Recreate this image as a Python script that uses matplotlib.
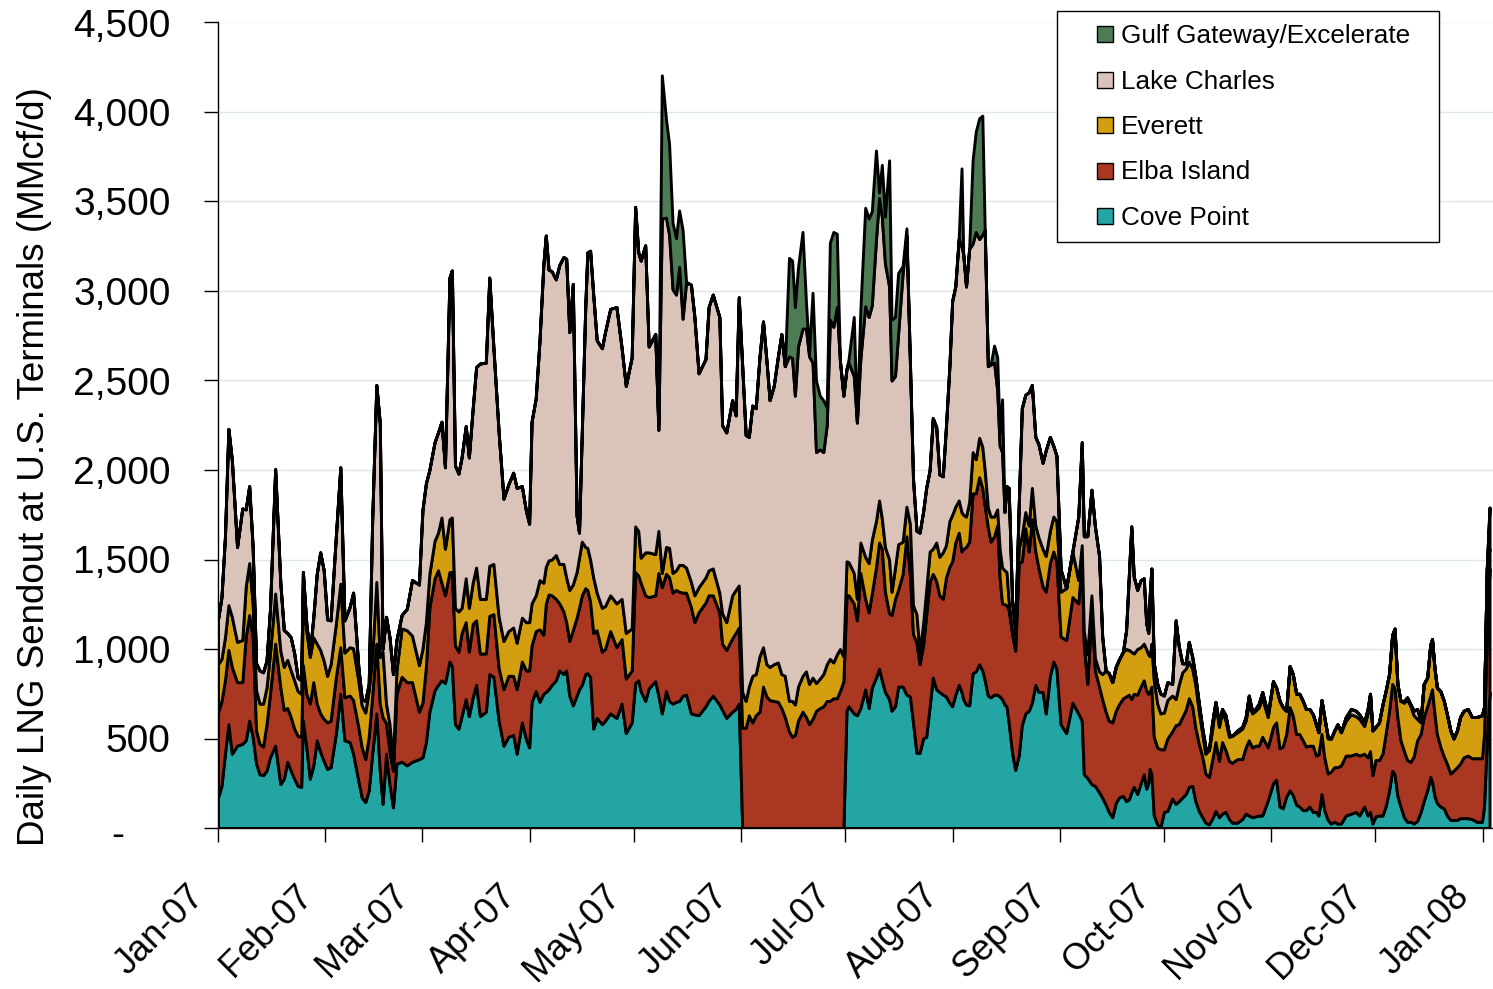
import pandas as pd
import matplotlib
matplotlib.use("Agg")
import matplotlib.pyplot as plt
import matplotlib.dates as mdates
from matplotlib.patches import Patch, Rectangle
from matplotlib.legend_handler import HandlerPatch
from matplotlib.transforms import ScaledTranslation

plt.rcParams['font.family'] = ['Liberation Sans', 'DejaVu Sans']

# day offsets from 1 Jan 2007 where the picture was read
days = [0, 1, 2, 3, 4, 5.5, 7, 8, 9, 10, 11, 12, 13, 14, 15, 16.5, 18, 19, 20, 21, 22, 23, 24, 24.5, 25.5,
        26.5, 27.5, 28.5, 29.5, 30.5, 31.5, 32.5, 34, 35.3, 36.5, 38, 39, 40.5, 41.5, 42.5, 43.5, 44.5, 45.7,
        46.7, 47.5, 48.5, 49.5, 50.5, 51.5, 53, 54.5, 56, 58, 59, 60,
        61, 62.5, 63.5, 64.5, 65.5, 66.8, 67.5, 68.4, 69.4, 70.3, 71.5, 72.4, 73.5, 74.5, 75.6, 77.3, 78.3,
        79.5, 81, 82.4, 83.8, 85.2, 86.2, 87.7, 88.9, 89.8, 90.5, 91.7, 92.8, 93.9, 94.6, 95.4, 96.3, 97.5,
        98.5, 99.7, 100.5, 101.4, 102.4, 103.5, 104.2, 105, 106, 106.6, 107.4, 108.3, 109.3, 110.8, 111.7,
        113.2, 115, 116.5, 117.7, 119.4, 120.4, 121.3,
        122, 123.3, 124.3, 126.2, 127.1, 128.1, 129.3, 130.2, 131.2, 132.2, 133.1, 134.1, 135.1, 136.5, 137.5,
        138.7, 140.7, 141.6, 142.8, 144.7, 145.5, 146.7, 148.4, 149.4, 150.3, 151.3, 152.3, 153.2, 154.2,
        155.2, 156.3, 157.3, 158.3, 159.2, 160.4, 161.6, 162.6, 163.6, 164.8, 165.7, 166.5, 167.4, 168.7,
        169.7, 170.6, 171.6, 172.6, 173.7, 174.7, 175.7, 176.6, 177.6, 178.6, 179.5, 180.5, 181.4,
        182, 183.5, 184.4, 185.4, 186.8, 187.8, 188.7, 189.9, 190.8, 191.6, 192.5, 193.7, 194.4, 195.4, 196.3,
        197.6, 198.7, 199.7, 200.6, 201.6, 202.5, 203.5, 204.4, 205.4, 206.3, 207.3, 208.2, 209.2, 210.1,
        211.1, 211.9, 212.8, 213.8, 214.6, 215.1, 215.9, 216.8, 217.8, 218.7, 219.7, 220.6, 221.3, 222.2,
        223, 224, 224.9, 225.6, 226.3, 227, 227.6, 228.2, 229.2, 230.1, 231.1, 232, 233, 234, 234.9, 235.9,
        236.8, 238, 238.9, 240.1, 241.1, 242,
        243.2, 244.8, 246.6, 248.3, 249.3, 249.9, 250.9, 252.1, 253.1, 254.3, 255.2, 256.2, 257.1, 258.1,
        259.1, 260, 261.2, 262.1, 262.9, 263.6, 264.3, 265.3, 266.3, 267.2, 267.9, 268.5, 268.9, 269.4,
        270.1, 271.1, 272, 273, 274, 275.4, 276.4, 277.3, 278.3, 279.3, 280.2, 281.2, 282.1, 283.1, 284.1,
        285, 286, 286.9, 287.9, 288.9, 289.8, 290.8, 291.8, 292.7, 294.2, 295.6, 296.6, 297.5, 298.5, 299.4,
        300.4, 301.4,
        303, 304.5, 305.4, 306.4, 307.3, 308.3, 309.3, 310.2, 311.2, 312.1, 313.1, 314, 315, 316, 316.9,
        317.6, 318.5, 319.3, 320.3, 321.2, 322.2, 323.1, 324.1, 325.5, 327, 328.4, 329.4, 330.8, 331.8,
        332.5, 333.2, 334.1, 335.1, 336.1, 337, 338, 338.9, 339.6, 340.4, 341.3, 342.3, 343.2, 344.2, 345.1,
        346.1, 347.1, 348, 349, 349.9, 350.4, 351.1, 351.8, 352.8, 353.8, 354.7, 355.7, 356.6, 357.6, 358.5,
        359.5, 360.7, 361.9, 363.3, 364.8, 365.4, 366.2, 367]

cove = [170, 235, 415, 580, 415, 460, 470, 490, 600, 510, 360, 300, 295, 320, 395, 460, 245, 275, 370, 320,
        275, 235, 230, 600, 450, 275, 350, 490, 425, 375, 330, 340, 525, 750, 490, 480, 415, 265, 170, 145,
        210, 415, 640, 320, 135, 415, 245, 115, 360, 370, 350, 370, 385, 395, 480,
        650, 770, 800, 825, 810, 930, 905, 580, 555, 625, 720, 625, 730, 800, 625, 650, 860, 845, 600, 460,
        510, 520, 415, 590, 495, 450, 705, 765, 705, 750, 760, 775, 800, 825, 880, 860, 880, 740, 685, 740,
        775, 800, 860, 865, 845, 555, 615, 580, 600, 640, 615, 695, 530, 590, 810, 825,
        765, 710, 780, 820, 740, 640, 765, 710, 695, 705, 710, 740, 745, 640, 635, 630, 680, 710, 740, 690,
        660, 615, 650, 665, 695, 0, 0, 0, 0, 0, 0, 0, 0, 0, 0, 0, 0, 0, 0, 0, 0, 0, 0, 0, 0, 0, 0, 0, 0, 0,
        0, 0, 0, 0, 0, 655,
        680, 640, 630, 670, 775, 670, 785, 840, 890, 825, 760, 720, 655, 680, 790, 790, 745, 735, 590, 420,
        420, 500, 510, 680, 840, 775, 760, 745, 735, 700, 680, 745, 800, 760, 720, 690, 685, 865, 875, 915,
        880, 825, 740, 730, 745, 745, 735, 720, 690, 680, 590, 420, 325, 405, 575, 640, 655, 700, 800, 760,
        760, 640, 850, 930, 890,
        580, 530, 700, 640, 600, 300, 280, 245, 235, 200, 170, 130, 90, 60, 140, 170, 180, 150, 160, 200,
        230, 190, 250, 300, 220, 250, 330, 300, 70, 20, 5, 90, 95, 165, 135, 150, 170, 190, 230, 235, 150,
        95, 60, 30, 20, 50, 95, 60, 80, 90, 50, 30, 30, 50, 80, 70, 60, 65, 70, 70,
        155, 250, 270, 120, 110, 175, 210, 185, 130, 120, 100, 100, 120, 90, 90, 70, 190, 100, 45, 25, 35,
        25, 25, 70, 80, 90, 70, 120, 70, 90, 25, 65, 70, 70, 120, 210, 320, 300, 180, 120, 60, 35, 35, 25,
        40, 90, 150, 210, 285, 260, 180, 140, 120, 110, 70, 45, 45, 45, 55, 55, 55, 50, 35, 35, 120, 490, 760]

elba = [475, 475, 410, 415, 485, 355, 345, 580, 590, 560, 185, 170, 160, 260, 355, 570, 540, 385, 300, 300,
        280, 280, 280, 310, 300, 420, 465, 205, 215, 235, 260, 260, 315, 260, 240, 260, 300, 300, 280, 240,
        300, 325, 390, 375, 485, 170, 185, 205, 390, 475, 465, 445, 265, 305, 420,
        580, 625, 640, 545, 490, 500, 525, 440, 430, 465, 430, 360, 410, 360, 350, 325, 325, 350, 295, 315,
        340, 330, 360, 340, 385, 430, 315, 335, 405, 330, 490, 530, 500, 455, 375, 350, 270, 305, 420, 435,
        455, 500, 480, 465, 420, 535, 490, 405, 400, 460, 395, 360, 305, 290, 620, 585,
        605, 590, 510, 480, 685, 705, 655, 690, 620, 625, 610, 575, 570, 595, 515, 575, 580, 590, 560, 515,
        370, 380, 410, 425, 425, 560, 560, 630, 590, 630, 650, 790, 735, 715, 710, 705, 670, 620, 540, 510,
        520, 600, 650, 620, 580, 610, 655, 670, 680, 710, 710, 725, 725, 765, 820, 645,
        620, 615, 530, 755, 505, 535, 525, 615, 705, 735, 560, 480, 535, 600, 540, 630, 885, 680, 495, 615,
        495, 520, 680, 695, 580, 605, 540, 535, 665, 760, 810, 850, 850, 785, 840, 880, 915, 1005, 995, 1045,
        1020, 975, 940, 870, 885, 945, 665, 535, 560, 565, 630, 665, 665, 1075, 915, 1035, 890, 1025, 745,
        695, 590, 680, 630, 615, 600,
        490, 520, 590, 615, 900, 725, 525, 975, 645, 590, 550, 520, 510, 530, 515, 520, 545, 585, 585, 520,
        520, 555, 540, 525, 550, 500, 430, 490, 440, 430, 435, 350, 405, 375, 440, 430, 450, 470, 495, 445,
        410, 375, 340, 275, 265, 325, 385, 315, 400, 345, 325, 335, 355, 335, 370, 420, 390, 395, 390, 440,
        295, 315, 320, 325, 345, 350, 465, 445, 395, 405, 390, 355, 340, 370, 315, 340, 335, 295, 260, 290,
        305, 315, 325, 335, 325, 325, 335, 295, 325, 340, 270, 315, 310, 345, 405, 445, 485, 480, 440, 370,
        370, 345, 335, 375, 450, 435, 470, 470, 455, 515, 460, 385, 335, 290, 290, 260, 275, 295, 305, 340,
        350, 340, 355, 355, 405, 590, 690]

everett = [270, 235, 240, 250, 280, 225, 235, 280, 290, 185, 225, 225, 240, 205, 225, 280, 205, 240, 270, 260,
           270, 250, 240, 365, 355, 260, 250, 335, 355, 325, 260, 315, 300, 355, 250, 270, 290, 260, 235, 260,
           260, 215, 345, 260, 365, 110, 150, 55, 130, 270, 290, 260, 260, 300, 250,
           190, 210, 210, 365, 260, 295, 305, 210, 225, 140, 245, 245, 230, 295, 305, 305, 280, 280, 285, 270,
           250, 270, 260, 245, 270, 270, 235, 200, 275, 290, 210, 190, 200, 245, 220, 265, 250, 285, 255, 255,
           280, 300, 230, 235, 235, 310, 210, 245, 240, 200, 245, 225, 255, 235, 255, 250,
           140, 240, 250, 230, 235, 80, 150, 165, 110, 110, 150, 155, 140, 140, 150, 140, 140, 140, 150, 110,
           170, 155, 240, 240, 235, 200, 150, 160, 260, 230, 310, 220, 180, 185, 205, 220, 190, 230, 170, 200,
           170, 190, 200, 255, 225, 230, 155, 165, 180, 205, 235, 200, 245, 235, 140, 190,
           185, 170, 120, 170, 235, 275, 300, 260, 235, 170, 250, 300, 130, 175, 255, 180, 165, 285, 160, 160,
           65, 120, 140, 170, 140, 215, 215, 260, 180, 255, 260, 200, 180, 220, 190, 170, 220, 230, 190, 220,
           230, 200, 110, 140, 110, 90, 160, 200, 190, 185, 50, 25, 90, 80, 145, 90, 145, 175, 145, 170,
           210, 200, 180, 195, 225,
           250, 290, 255, 130, 80, 75, 165, 80, 70, 85, 140, 230, 265, 225, 245, 250, 260, 265, 250, 265,
           225, 255, 220, 205, 230, 220, 200, 240, 315, 245, 200, 205, 215, 200, 145, 220, 250, 230, 205, 210,
           240, 180, 125, 110, 150, 170, 215, 190, 175, 165, 135, 150, 150, 170, 150, 205, 190, 195, 215, 215,
           170, 255, 195, 265, 220, 130, 230, 230, 225, 225, 220, 210, 205, 175, 175, 125, 190, 225, 195, 185,
           205, 240, 185, 195, 230, 210, 205, 155, 245, 320, 250, 185, 210, 275, 240, 205, 275, 320, 185, 220,
           270, 340, 310, 230, 120, 65, 185, 160, 285, 280, 255, 260, 310, 310, 275, 240, 180, 205, 260, 260,
           260, 230, 230, 240, 150, 370, 110]

lake = [250, 345, 560, 985, 875, 530, 735, 430, 430, 315, 150, 185, 175, 150, 245, 695, 375, 205, 150, 185,
        150, 75, 75, 155, 35, 20, 110, 390, 545, 505, 315, 245, 485, 650, 180, 225, 310, 75, 35, 65,
        35, 765, 1100, 1305, 15, 485, 485, 485, 170, 75, 120, 310, 450, 775, 775,
        580, 550, 560, 535, 455, 1350, 1380, 795, 770, 840, 850, 840, 970, 1120, 1315, 1320, 1610, 1205, 1030,
        795, 820, 865, 865, 735, 620, 550, 1015, 1100, 1340, 1775, 1850, 1625, 1610, 1540, 1670, 1715, 1780,
        1440, 1680, 315, 140, 610, 1340, 1650, 1725, 1580, 1410, 1450, 1530, 1600, 1655, 1400, 1380, 1515,
        1785, 1555,
        1660, 1715, 1150, 1230, 565, 1980, 1840, 1750, 1585, 1540, 1665, 1375, 1595, 1660, 1555, 1195, 1220,
        1470, 1530, 1540, 1050, 1060, 1090, 975, 1610, 1820, 1485, 1395, 1510, 1485, 1675, 1820, 1695, 1490,
        1555, 1710, 1900, 1730, 1925, 1915, 1725, 1900, 1940, 1915, 1830, 1760, 1290, 1280, 1240, 1335, 1895,
        1875, 1940, 1610, 1455, 1075,
        1115, 1100, 985, 1025, 1400, 1375, 1310, 1570, 1690, 1685, 1585, 1525, 1180, 1070, 1175, 1500, 1515,
        905, 705, 465, 670, 625, 570, 455, 730, 645, 460, 425, 660, 865, 1195, 1230, 1460, 1485, 1455, 1285,
        1415, 1165, 1270, 1110, 1185, 1340, 790, 850, 860, 665, 575, 645, 325, 480, 630, 160, 30, 235, 710,
        655, 745, 575, 495, 520, 480, 590, 525, 395, 365,
        125, 0, 0, 355, 575, 530, 660, 590, 735, 645, 210, 0, 0, 0, 0, 0, 0, 105, 420, 700, 430, 330, 375,
        365, 145, 120, 335, 420, 95, 110, 110, 95, 100, 65, 440, 215, 50, 30, 110, 65, 45, 45, 30, 35, 0,
        40, 10, 20, 10, 30, 15, 0, 10, 10, 20, 45, 10, 10, 20, 35,
        15, 0, 0, 0, 0, 0, 0, 0, 0, 0, 0, 0, 0, 0, 0, 0, 0, 0, 10, 0, 0, 0, 0, 20, 30, 30, 25, 20, 25, 0,
        0, 0, 0, 0, 0, 0, 0, 15, 0, 0, 10, 10, 10, 25, 55, 10, 0, 0, 0, 0, 0, 0, 0, 0, 0, 0, 0, 0, 0, 0,
        0, 0, 0, 0, 0, 0, 230]

# Gulf Gateway only shows up in May and July (zero before day 122 and after day 242)
gulf = ([0] * 111 +
        [0, 0, 0, 0, 0, 800, 550, 505, 370, 315, 315, 495, 0, 0, 0, 0, 0, 0, 0, 0, 0, 0, 0, 0, 0, 0, 0, 0,
         0, 0, 0, 0, 0, 0, 0, 0, 0, 0, 550, 545, 495, 440, 540, 150, 15, 390, 400, 300, 290, 100, 430, 530,
         410, 0, 0, 0] +
        [20, 330, 0, 275, 550, 550, 525, 500, 30, 290, 260, 705, 340, 330, 340, 40, 40, 0, 0, 0, 0, 0, 0,
         0, 0, 0, 0, 0, 0, 0, 0, 0, 10, 435, 0, 0, 0, 465, 560, 675, 665, 0, 0, 0, 95, 185, 65, 295, 0, 0,
         0, 0, 0, 0, 0, 0, 0, 0, 0, 0, 0, 0, 0, 0, 0] +
        [0] * 127)

names = ['Cove Point', 'Elba Island', 'Everett', 'Lake Charles', 'Gulf Gateway/Excelerate']
colors = ['#23a6a3', '#a93722', '#d39f11', '#dac4b9', '#4d7b54']
ytick_vals = [0, 500, 1000, 1500, 2000, 2500, 3000, 3500, 4000, 4500]
ytick_labels = ['-', '500', '1,000', '1,500', '2,000', '2,500', '3,000', '3,500', '4,000', '4,500']

for s in (cove, elba, everett, lake, gulf):
    assert len(s) == len(days), len(s)

start = pd.Timestamp('2007-01-01')
dates = start + pd.to_timedelta(days, unit='D')

fig = plt.figure(figsize=(14.93, 9.89), dpi=100)
ax = fig.add_axes([218 / 1493, 1 - 828 / 989, 1275 / 1493, 805.5 / 989])

ax.stackplot(dates, cove, elba, everett, lake, gulf, colors=colors,
             edgecolor='black', linewidth=2.1, joinstyle='round')

ax.set_xlim(start, start + pd.Timedelta(days=368))
ax.set_ylim(0, 4500)
ax.set_yticks(ytick_vals)
ax.set_yticklabels(ytick_labels)
ax.yaxis.grid(True, color='#dce6e6', linewidth=1)
ax.set_axisbelow(True)

ax.xaxis.set_major_locator(mdates.MonthLocator())
ax.xaxis.set_major_formatter(mdates.DateFormatter('%b-%y'))

for side in ('top', 'right'):
    ax.spines[side].set_visible(False)
for side in ('left', 'bottom'):
    ax.spines[side].set_linewidth(1.0)
    ax.spines[side].set_color('black')
    ax.spines[side].set_zorder(5)

ax.tick_params(axis='y', direction='out', length=10, width=1, labelsize=28, pad=24)
ax.tick_params(axis='x', direction='out', length=10, width=1, labelsize=26, pad=40)

fig.canvas.draw()
for lab in ax.get_xticklabels():
    lab.set_rotation(45)
    lab.set_ha('right')
    lab.set_va('baseline')
    lab.set_rotation_mode('anchor')
    lab.set_transform(lab.get_transform() + ScaledTranslation(-12 / 100, 0, fig.dpi_scale_trans))
zero_lab = ax.get_yticklabels()[0]
zero_lab.set_transform(zero_lab.get_transform() + ScaledTranslation(-47 / 100, -4 / 100, fig.dpi_scale_trans))

fig.text(35 / 1493, 1 - 467 / 989, 'Daily LNG Sendout at U.S. Terminals (MMcf/d)',
         rotation=90, ha='center', va='center', fontsize=26.5)


class SquareHandler(HandlerPatch):
    def create_artists(self, legend, orig_handle, xdescent, ydescent, width, height, fontsize, trans):
        s = 11.5
        p = Rectangle((-xdescent + width - s, -ydescent + (height - s) / 2), s, s,
                      facecolor=orig_handle.get_facecolor(), edgecolor='black', linewidth=1.0,
                      transform=trans)
        return [p]


handles = [Patch(facecolor=c, label=n) for c, n in zip(colors, names)][::-1]
leg = fig.legend(handles=handles, loc='upper left', bbox_to_anchor=(0.7078, 0.7892, 0.2561, 0.2),
                 mode='expand', borderaxespad=0, fontsize=18.8, handlelength=1.7, handleheight=1.0,
                 handletextpad=0.3, labelspacing=0.76, borderpad=0.45, frameon=True, fancybox=False,
                 framealpha=1, edgecolor='black', handler_map={Patch: SquareHandler()})
leg.get_frame().set_linewidth(1.0)

fig.savefig('out.png', dpi=100)
